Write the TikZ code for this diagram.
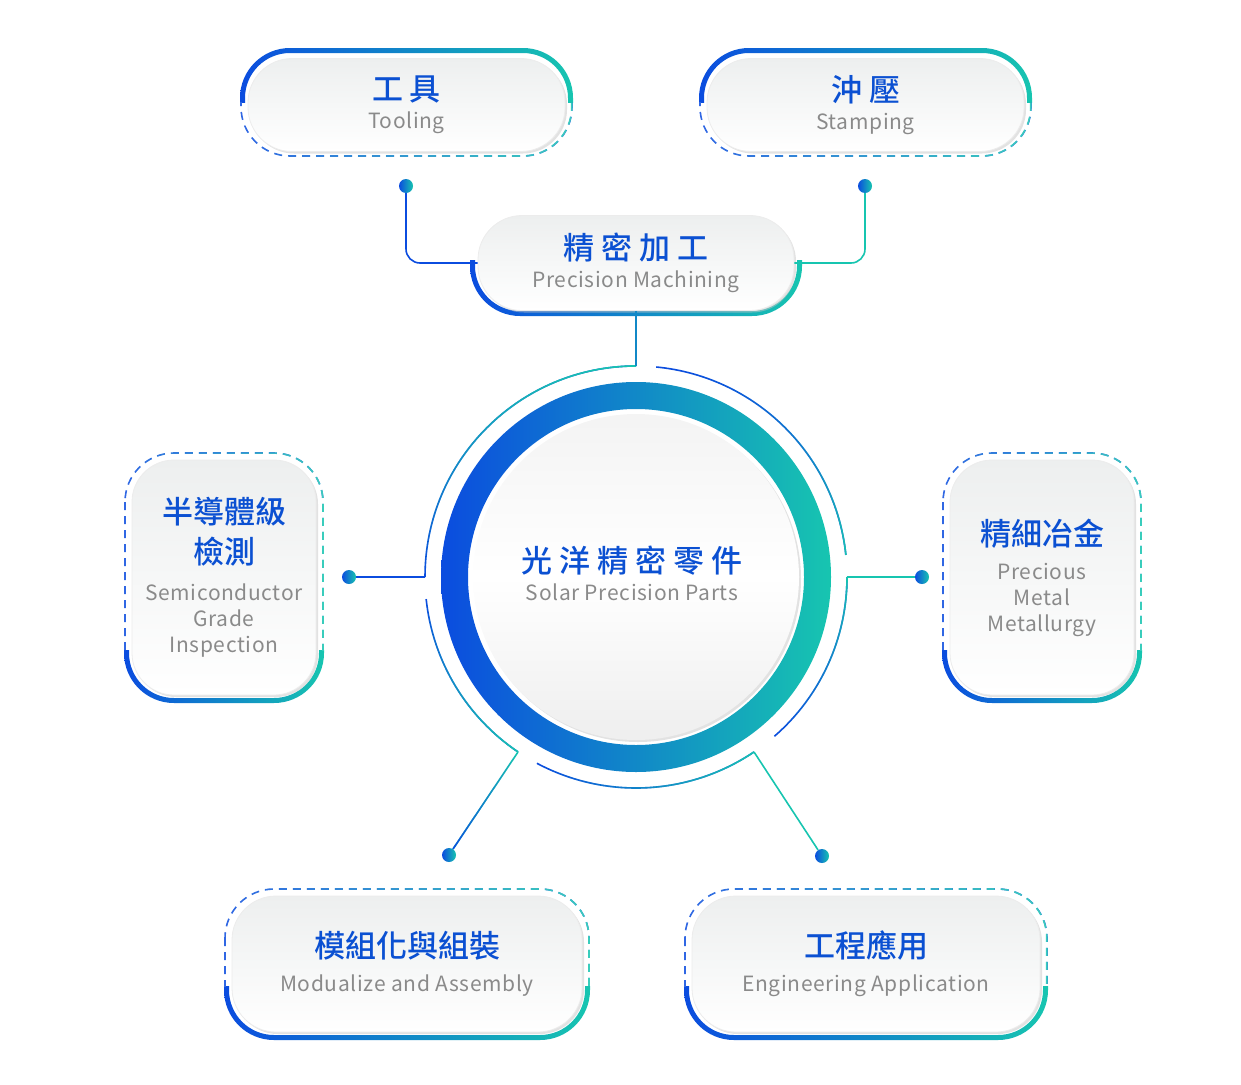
\documentclass[tikz,border=0pt]{standalone}
\usepackage{fontspec}
\setmainfont{Noto Sans CJK TC}
\newfontfamily\headfam{Noto Sans CJK TC Medium}
\usetikzlibrary{fadings, shadows}

\definecolor{cblue}{HTML}{0B4CDF}
\definecolor{cteal}{HTML}{17C5B0}
\colorlet{cmid}{cblue!50!cteal}
\definecolor{ctitle}{HTML}{0B50D2}
\definecolor{ctext}{HTML}{8A8A8A}
\definecolor{cardtop}{HTML}{EDEFEF}

\newcommand\headfont{\headfam\fontsize{31}{36}\selectfont\color{ctitle}}
\newcommand\subfont{\addfontfeatures{LetterSpace=3}\fontsize{21}{26}\selectfont\color{ctext}}

\tikzfading[name=toE, left color=transparent!100, right color=transparent!0]
\tikzfading[name=toN, bottom color=transparent!100, top color=transparent!0]
\tikzfading[name=toS, top color=transparent!100, bottom color=transparent!0]

\begin{document}
\begin{tikzpicture}[x=1pt, y=-1pt,
    card/.style={rounded corners=44, draw=gray!15, line width=0.8, top color=cardtop, bottom color=white, drop shadow={shadow xshift=2pt, shadow yshift=-2pt, fill=gray!45, opacity=0.5}, align=center, inner sep=0, font=\subfont},
    dot/.style={circle, inner sep=0, minimum size=14, left color=cblue, right color=cteal},
    link/.style={line width=1.6},
    dashline/.style={line width=1.6, dash pattern=on 8 off 6, rounded corners=49},
    over/.style={path fading=#1, fit fading=true}
]
\useasboundingbox (0,0) rectangle (1241,1084);

% Frames round the cards: solid gradient part, then dashed part
\foreach \xa/\ya/\xb/\yb/\ta/\tb/\da/\db in {
    240/48/573/157/0/102/102/1084,
    699/48/1032/157/0/102/102/1084,
    470/205/802/316/260/1084/0/0,
    124/452/324/703/650/1084/0/650,
    942/452/1142/703/650/1084/0/650,
    224/888/590/1040/986/1084/0/986,
    684/888/1048/1040/986/1084/0/986}{
  \begin{scope}
    \clip (0,\ta) rectangle (1241,\tb);
    \shade[left color=cblue, right color=cteal, even odd rule, rounded corners=50]
      (\xa,\ya) rectangle (\xb,\yb) [rounded corners=45] (\xa+5,\ya+5) rectangle (\xb-5,\yb-5);
  \end{scope}
  \begin{scope}
    \clip (0,\da) rectangle (1241,\db);
    \draw[dashline, cblue!85] (\xa+1,\ya+1) rectangle (\xb-1,\yb-1);
    \draw[dashline, cteal!85, over=toE] (\xa+1,\ya+1) rectangle (\xb-1,\yb-1);
  \end{scope}
}

% Cards
\node[card, minimum width=317, minimum height=93] (tool) at (406.5,105) {{\headfont 工 具}\\[2pt]Tooling};
\node[card, minimum width=317, minimum height=93] (stamp) at (865.5,105) {{\headfont 沖 壓}\\[2pt]Stamping};
\node[card, minimum width=316, minimum height=95] (pm) at (636,263) {{\headfont 精 密 加 工}\\[2pt]Precision Machining};
\node[card, rounded corners=42, minimum width=184, minimum height=235] (semi) at (224,577.5) {{\headfont 半導體級}\\[10pt]{\headfont 檢測}\\[11pt]Semiconductor\\Grade\\Inspection};
\node[card, rounded corners=42, minimum width=184, minimum height=235] (metal) at (1042,577.5) {{\headfont 精細冶金}\\[8pt]Precious\\Metal\\Metallurgy};
\node[card, minimum width=350, minimum height=136] (mod) at (407,964) {{\headfont 模組化與組裝}\\[8pt]Modualize and Assembly};
\node[card, minimum width=348, minimum height=136] (eng) at (866,964) {{\headfont 工程應用}\\[8pt]Engineering Application};

% Hub
\shade[even odd rule, left color=cblue, right color=cteal] (636,577) circle (195) (636,577) circle (168);
\node[circle, minimum size=326, inner sep=0, top color=gray!9, bottom color=gray!13, middle color=white,
  drop shadow={shadow xshift=2pt, shadow yshift=-2pt, fill=gray!45, opacity=0.5}] (hub) at (636,577) {};
\node[align=center, font=\subfont] (hubtext) at (632,573) {{\headfont 光 洋 精 密 零 件}\\[2pt]Solar Precision Parts};

% Points on the outer ring
\coordinate (rT) at ([shift={(-90:211)}]hub.center);
\coordinate (rL) at ([shift={(-180:211)}]hub.center);
\coordinate (rR) at ([shift={(0:211)}]hub.center);
\coordinate (rBL) at ([shift={(-236:211)}]hub.center);
\coordinate (rBR) at ([shift={(-304:211)}]hub.center);

% Outer ring arcs
\draw[link, cblue] (rT) arc[start angle=-90, end angle=-180, radius=211];
\draw[link, cteal, over=toN] (rT) arc[start angle=-90, end angle=-180, radius=211];
\draw[link, cblue] ([shift={(-186:211)}]hub.center) arc[start angle=-186, end angle=-236, radius=211];
\draw[link, cteal, over=toS] ([shift={(-186:211)}]hub.center) arc[start angle=-186, end angle=-236, radius=211];
\draw[link, cblue] ([shift={(-242:211)}]hub.center) arc[start angle=-242, end angle=-304, radius=211];
\draw[link, cteal, over=toE] ([shift={(-242:211)}]hub.center) arc[start angle=-242, end angle=-304, radius=211];
\draw[link, cblue] ([shift={(-311:211)}]hub.center) arc[start angle=-311, end angle=-360, radius=211];
\draw[link, cteal, over=toN] ([shift={(-311:211)}]hub.center) arc[start angle=-311, end angle=-360, radius=211];
\draw[link, cblue] ([shift={(-6:211)}]hub.center) arc[start angle=-6, end angle=-84.5, radius=211];
\draw[link, cteal, over=toS] ([shift={(-6:211)}]hub.center) arc[start angle=-6, end angle=-84.5, radius=211];

% Dots
\node[dot] (dTool) at (406,186) {};
\node[dot] (dStamp) at (865,186) {};
\node[dot] (dSemi) at (349,577) {};
\node[dot] (dMetal) at (922,577) {};
\node[dot] (dMod) at (449,855) {};
\node[dot] (dEng) at (822,856) {};

% Connectors
\draw[link, cblue, rounded corners=14] (pm) -| (dTool);
\draw[link, cteal, rounded corners=14] (pm) -| (dStamp);
\draw[link, cmid] (pm) -- (rT);
\draw[link, cblue] (rL) -- (dSemi);
\draw[link, cteal] (rR) -- (dMetal);
\draw[link, cteal] (rBL) -- (dMod);
\draw[link, cblue, over=toS] (rBL) -- (dMod);
\draw[link, cteal] (rBR) -- (dEng);

\end{tikzpicture}
\end{document}
